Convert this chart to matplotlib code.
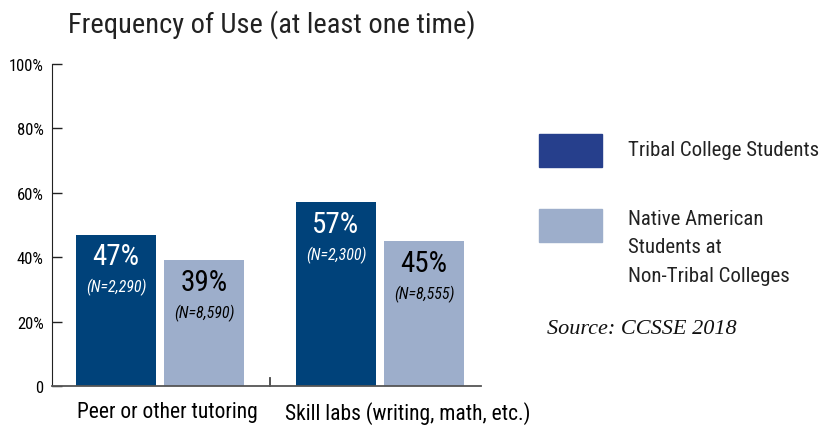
import matplotlib
matplotlib.use("Agg")
import matplotlib.pyplot as plt
from matplotlib.patches import Rectangle
from matplotlib import font_manager as fm
from matplotlib.transforms import ScaledTranslation
import numpy as np

categories = ["Peer or other tutoring", "Skill labs (writing, math, etc.)"]
tribal = [47, 57]
tribal_n = ["(N=2,290)", "(N=2,300)"]
non_tribal = [39, 45]
non_tribal_n = ["(N=8,590)", "(N=8,555)"]
series_names = ["Tribal College Students",
                "Native American\nStudents at\nNon-Tribal Colleges"]
y_ticks = [0, 20, 40, 60, 80, 100]
y_tick_labels = ["0", "20%", "40%", "60%", "80%", "100%"]

installed = {f.name for f in fm.fontManager.ttflist}
narrow = [f for f in ["Liberation Sans Narrow", "Roboto Condensed", "Roboto"] if f in installed]
plt.rcParams["font.family"] = narrow + ["DejaVu Sans"]

DARK = "#00427a"
LIGHT = "#9daecb"
LEGEND_DARK = "#263f8c"

W, H = 821, 427
fig = plt.figure(figsize=(W / 100, H / 100), dpi=100)
ax = fig.add_axes([52 / W, 1 - 387 / H, (481 - 52) / W, (387 - 65) / H])

x = np.arange(len(categories))
bw = 80 / 220
off = 44 / 220
b1 = ax.bar(x - off, tribal, bw, color=DARK)
b2 = ax.bar(x + off, non_tribal, bw, color=LIGHT)

for bars, vals, ns, col in [(b1, tribal, tribal_n, "white"), (b2, non_tribal, non_tribal_n, "black")]:
    for b, v, n in zip(bars, vals, ns):
        cx = b.get_x() + b.get_width() / 2
        ax.annotate(f"{v}%", (cx, v), xytext=(0, -15.5), textcoords="offset points",
                    ha="center", va="center", fontsize=21, color=col)
        ax.annotate(n, (cx, v), xytext=(0, -37.5), textcoords="offset points",
                    ha="center", va="center", fontsize=11.5, style="italic", color=col)

ax.set_xlim((52 - 160) / 220, (481 - 160) / 220)
ax.set_ylim(0, 100)
ax.set_yticks(y_ticks)
ax.set_yticklabels(y_tick_labels, fontsize=12)
ax.tick_params(axis="y", direction="in", length=7, width=1, pad=6, color="#222222")
ax.set_xticks(x)
ax.set_xticklabels(categories, fontsize=15.5)
ax.tick_params(axis="x", length=0, pad=11)
# nudge category labels to the right
for lbl, dx in zip(ax.get_xticklabels(), [7, 28]):
    lbl.set_transform(lbl.get_transform() + ScaledTranslation(dx / 100, 0, fig.dpi_scale_trans))
# divider tick between the two groups
ax.plot([0.5, 0.5], [0, 2.5], color="#444444", lw=1.3, clip_on=False)

for s in ["top", "right"]:
    ax.spines[s].set_visible(False)
ax.spines["left"].set_color("#222222")
ax.spines["bottom"].set_color("#555555")
ax.spines["bottom"].set_linewidth(1.3)

fig.text(68 / W, 1 - 25 / H, "Frequency of Use (at least one time)", fontsize=20.5,
         ha="left", va="center", color="#222222")

# legend
fig.patches.append(Rectangle((539 / W, 1 - 168 / H), 63 / W, 33 / H,
                             transform=fig.transFigure, color=LEGEND_DARK))
fig.patches.append(Rectangle((539 / W, 1 - 243 / H), 63 / W, 33 / H,
                             transform=fig.transFigure, color=LIGHT))
fig.text(628 / W, 1 - 151 / H, series_names[0], fontsize=15, ha="left", va="center",
         color="#222222")
fig.text(628 / W, 1 - 248 / H, series_names[1], fontsize=15, ha="left", va="center",
         color="#222222", linespacing=1.62)
fig.text(547 / W, 1 - 330 / H, "Source: CCSSE 2018", fontsize=16, ha="left", va="center",
         family="Liberation Serif", style="italic", color="#111111")

fig.savefig("out.png", dpi=100)
